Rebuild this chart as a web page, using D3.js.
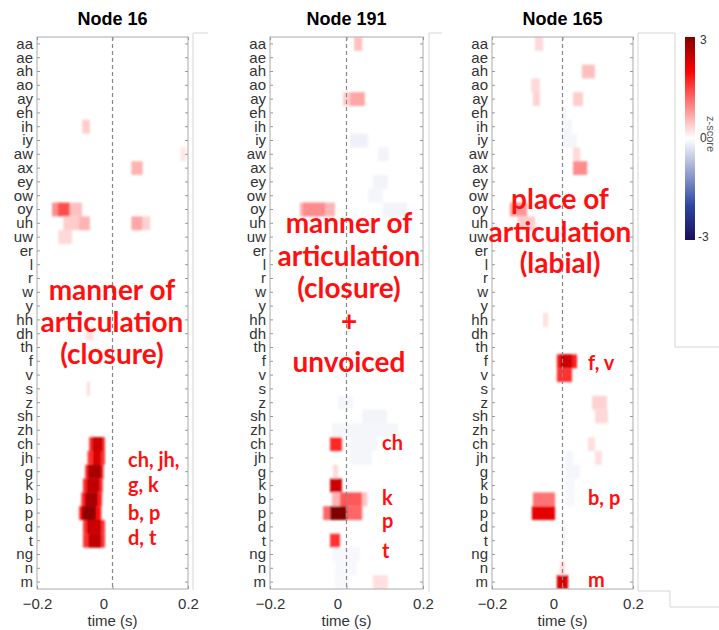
<!DOCTYPE html>
<html>
<head>
<meta charset="utf-8">
<script src="https://cdn.jsdelivr.net/npm/d3@7"></script>
<style>
  body { margin: 0; background: #fff; }
  svg { display: block; }
</style>
</head>
<body>
<script>
// phoneme rows, top to bottom
const phonemes = ["aa","ae","ah","ao","ay","eh","ih","iy","aw","ax","ey","ow","oy","uh","uw","er","l","r","w","y",
                  "hh","dh","th","f","v","s","z","sh","zh","ch","jh","g","k","b","p","d","t","ng","n","m"];
const timeTicks = [-0.2, 0, 0.2];
const zTicks = [3, 0, -3];
const titles = ["Node 16", "Node 191", "Node 165"];

// cells: [phoneme, time start (s), time end (s), z-score]
const node16 = [
  ["ih", -0.080, -0.060, 0.4], ["aw", 0.180, 0.195, 0.2], ["ax", 0.050, 0.080, 0.6],
  ["oy", -0.160, -0.145, 0.9], ["oy", -0.145, -0.113, 1.4], ["oy", -0.113, -0.081, 0.5],
  ["uh", -0.130, -0.090, 0.4], ["uh", -0.090, -0.060, 0.6], ["uh", 0.050, 0.080, 0.7], ["uh", 0.080, 0.100, 0.35],
  ["uw", -0.144, -0.107, 0.3], ["dh", -0.070, -0.050, 0.25], ["s", -0.068, -0.060, 0.3],
  ["ch", -0.062, -0.020, 1.6], ["ch", -0.054, -0.026, 2.4],
  ["jh", -0.066, -0.020, 1.6], ["jh", -0.052, -0.030, 2.3],
  ["g", -0.072, -0.024, 1.8], ["g", -0.064, -0.030, 2.7],
  ["k", -0.078, -0.026, 1.7], ["k", -0.068, -0.034, 2.5],
  ["b", -0.082, -0.028, 1.8], ["b", -0.072, -0.040, 2.7],
  ["p", -0.088, -0.030, 1.9], ["p", -0.080, -0.044, 2.9],
  ["d", -0.078, -0.020, 1.6], ["d", -0.068, -0.030, 2.4],
  ["t", -0.078, -0.020, 1.6], ["t", -0.064, -0.030, 2.5]
];
const node191 = [
  ["aa", 0.020, 0.041, 0.5], ["ay", -0.009, 0.009, 0.4], ["ay", 0.009, 0.048, 0.7],
  ["iy", 0.009, 0.056, -0.15], ["aw", 0.082, 0.111, -0.12], ["ey", 0.069, 0.108, -0.12], ["ow", 0.056, 0.095, -0.1],
  ["oy", -0.122, -0.030, 0.6], ["oy", -0.114, -0.056, 0.9], ["oy", 0.095, 0.158, -0.12],
  ["z", -0.022, 0.017, -0.1], ["sh", 0.041, 0.106, -0.12], ["zh", -0.038, 0.135, -0.1],
  ["ch", -0.043, -0.012, 1.7], ["ch", 0.009, 0.080, -0.1], ["jh", 0.009, 0.067, -0.1],
  ["g", -0.035, -0.022, 0.3], ["k", -0.043, -0.012, 2.4],
  ["b", -0.038, -0.017, 0.6], ["b", -0.017, 0.041, 1.3], ["b", 0.041, 0.054, 0.5],
  ["p", -0.061, -0.043, 1.2], ["p", -0.043, 0.001, 3.0], ["p", 0.001, 0.041, 1.2],
  ["t", -0.043, -0.017, 1.6], ["ng", -0.038, 0.035, -0.08], ["n", -0.030, 0.027, -0.08],
  ["m", -0.030, 0.009, -0.06], ["m", 0.069, 0.108, 0.25]
];
const node165 = [
  ["aa", -0.078, -0.055, 0.3], ["ah", 0.055, 0.092, 0.5], ["ao", -0.089, -0.064, 0.3],
  ["ay", -0.084, -0.064, 0.35], ["ay", 0.030, 0.058, 0.4],
  ["eh", -0.001, 0.013, -0.1], ["ih", 0.001, 0.027, -0.1], ["iy", 0.001, 0.041, -0.1],
  ["aw", 0.030, 0.050, 0.3], ["ax", 0.030, 0.070, 0.9],
  ["oy", -0.149, -0.100, 0.8], ["uh", -0.126, -0.078, 0.4], ["hh", -0.055, -0.041, 0.25],
  ["f", -0.016, 0.041, 1.8], ["f", -0.007, 0.027, 2.4], ["v", -0.016, 0.027, 1.6],
  ["z", 0.084, 0.126, 0.35], ["sh", 0.092, 0.129, 0.3], ["ch", 0.072, 0.092, 0.25],
  ["jh", 0.092, 0.112, 0.25], ["jh", 0.007, 0.030, -0.1], ["g", 0.007, 0.050, -0.1], ["k", 0.007, 0.035, -0.08],
  ["b", -0.084, -0.021, 1.1], ["b", 0.007, 0.035, -0.08], ["p", -0.087, -0.021, 2.2],
  ["d", 0.000, 0.013, -0.08], ["t", 0.000, 0.013, -0.08], ["n", -0.007, 0.007, 0.3], ["m", -0.016, 0.016, 2.3]
];

// annotations
const notes16 = ["manner of", "articulation", "(closure)"];
const labels16 = ["ch, jh,", "g, k", "b, p", "d, t"];
const notes191 = ["manner of", "articulation", "(closure)", "+", "unvoiced"];
const labels191 = ["ch", "k", "p", "t"];
const notes165 = ["place of", "articulation", "(labial)"];
const labels165 = ["f, v", "b, p", "m"];

// layout
const panels = [
  { title: titles[0], cells: node16, x0: 37, x1: 188,
    notes: notes16, noteX: 112, noteY: [300, 332, 364],
    labels: labels16, labelX: 128, labelY: [467, 492, 520, 545] },
  { title: titles[1], cells: node191, x0: 270, x1: 423,
    notes: notes191, noteX: 349, noteY: [233, 266, 298, 331, 372],
    labels: labels191, labelX: 382, labelY: [450, 505, 528, 558] },
  { title: titles[2], cells: node165, x0: 492, x1: 633,
    notes: notes165, noteX: 560, noteY: [209, 242, 273],
    labels: labels165, labelX: 588, labelY: [370, 505, 587] }
];
const plotTop = 37, plotBottom = 589;

const color = d3.scaleLinear()
  .domain([-3, -2, 0, 2, 3])
  .range(["#1c0d5a", "#2b45a0", "#ffffff", "#ff0000", "#800000"])
  .clamp(true);

const svg = d3.select("body").append("svg").attr("width", 719).attr("height", 630);
const defs = svg.append("defs");
defs.append("filter").attr("id", "soft")
  .append("feGaussianBlur").attr("stdDeviation", 0.9);

// leftover frames of neighbouring axes
svg.append("path")
  .attr("d", "M193,590V33H208 M429,592V33H442 M638,591V33H675V347H719 M638,591H670V607H719")
  .attr("fill", "none").attr("stroke", "#d6d6d6");

const y = d3.scaleBand().domain(phonemes).range([plotTop, plotBottom]);

panels.forEach((p, i) => {
  const x = d3.scaleLinear().domain([-0.2, 0.2]).range([p.x0, p.x1]);
  const g = svg.append("g");

  defs.append("clipPath").attr("id", "clip" + i)
    .append("rect").attr("x", p.x0).attr("y", plotTop).attr("width", p.x1 - p.x0).attr("height", plotBottom - plotTop);

  g.append("g").attr("clip-path", `url(#clip${i})`)
    .append("g").attr("filter", "url(#soft)")
    .selectAll("rect")
    .data(p.cells)
    .join("rect")
    .attr("x", d => x(d[1]))
    .attr("width", d => x(d[2]) - x(d[1]))
    .attr("y", d => y(d[0]))
    .attr("height", y.bandwidth())
    .attr("fill", d => color(d[3]));

  // onset line
  g.append("line")
    .attr("x1", x(0)).attr("x2", x(0)).attr("y1", plotTop).attr("y2", plotBottom)
    .attr("stroke", "#888").attr("stroke-width", 1.2).attr("stroke-dasharray", "4,3");

  // frame
  g.append("rect")
    .attr("x", p.x0).attr("y", plotTop).attr("width", p.x1 - p.x0).attr("height", plotBottom - plotTop)
    .attr("fill", "none").attr("stroke", "#aaa");

  const yLeft = g.append("g").attr("transform", `translate(${p.x0},0)`)
    .call(d3.axisLeft(y).tickSize(-3).tickPadding(4));
  g.append("g").attr("transform", `translate(${p.x1},0)`)
    .call(d3.axisRight(y).tickSize(-3).tickFormat(""));
  const xBottom = g.append("g").attr("transform", `translate(0,${plotBottom})`)
    .call(d3.axisBottom(x).tickValues(timeTicks).tickSize(-3).tickPadding(9).tickFormat(d3.format("")));
  g.append("g").attr("transform", `translate(0,${plotTop})`)
    .call(d3.axisTop(x).tickValues(timeTicks).tickSize(-3).tickFormat(""));

  g.selectAll(".domain").remove();
  g.selectAll(".tick line").attr("stroke", "#999");
  yLeft.selectAll("text").attr("font-family", "Liberation Sans").attr("font-size", 15).attr("fill", "#333");
  xBottom.selectAll("text").attr("font-family", "Liberation Sans").attr("font-size", 15).attr("fill", "#333")
    .attr("dx", d => d === 0 ? -9 : 0);

  g.append("text")
    .attr("x", (p.x0 + p.x1) / 2).attr("y", 626)
    .attr("text-anchor", "middle")
    .attr("font-family", "Liberation Sans").attr("font-size", 15).attr("fill", "#333")
    .text("time (s)");

  g.append("text")
    .attr("x", (p.x0 + p.x1) / 2).attr("y", 25)
    .attr("text-anchor", "middle")
    .attr("font-family", "Liberation Sans").attr("font-weight", "bold").attr("font-size", 18)
    .text(p.title);

  // big annotation
  g.selectAll("text.note")
    .data(p.notes)
    .join("text")
    .attr("class", "note")
    .attr("x", p.noteX)
    .attr("y", (d, j) => p.noteY[j])
    .attr("text-anchor", "middle")
    .attr("font-family", "Lato").attr("font-weight", "bold").attr("font-size", 28)
    .attr("fill", "#ff1010")
    .text(d => d);

  // phoneme labels
  g.selectAll("text.lab")
    .data(p.labels)
    .join("text")
    .attr("class", "lab")
    .attr("x", p.labelX)
    .attr("y", (d, j) => p.labelY[j])
    .attr("font-family", "Lato").attr("font-weight", "bold").attr("font-size", 20)
    .attr("fill", "#ff1010")
    .text(d => d);
});

// colour bar
const cbTop = 37, cbBottom = 240;
const zScale = d3.scaleLinear().domain([3, -3]).range([cbTop, cbBottom]);
const grad = defs.append("linearGradient").attr("id", "cbar")
  .attr("x1", 0).attr("y1", 0).attr("x2", 0).attr("y2", 1);
grad.selectAll("stop")
  .data(d3.range(3, -3.01, -0.25))
  .join("stop")
  .attr("offset", d => (3 - d) / 6)
  .attr("stop-color", d => color(d));

svg.append("rect")
  .attr("x", 685).attr("y", cbTop).attr("width", 10).attr("height", cbBottom - cbTop)
  .attr("fill", "url(#cbar)");

svg.selectAll("text.zt")
  .data(zTicks)
  .join("text")
  .attr("class", "zt")
  .attr("x", d => d < 0 ? 698 : 700)
  .attr("y", d => zScale(d) + (d > 0 ? 4 : d < 0 ? -2 : 0))
  .attr("dominant-baseline", "middle")
  .attr("font-family", "Liberation Sans").attr("font-size", 12).attr("fill", "#333")
  .text(d => d);

svg.append("text")
  .attr("transform", "translate(707,134) rotate(90)")
  .attr("text-anchor", "middle")
  .attr("font-family", "Liberation Sans").attr("font-size", 11).attr("fill", "#555")
  .text("z-score");
</script>
</body>
</html>
